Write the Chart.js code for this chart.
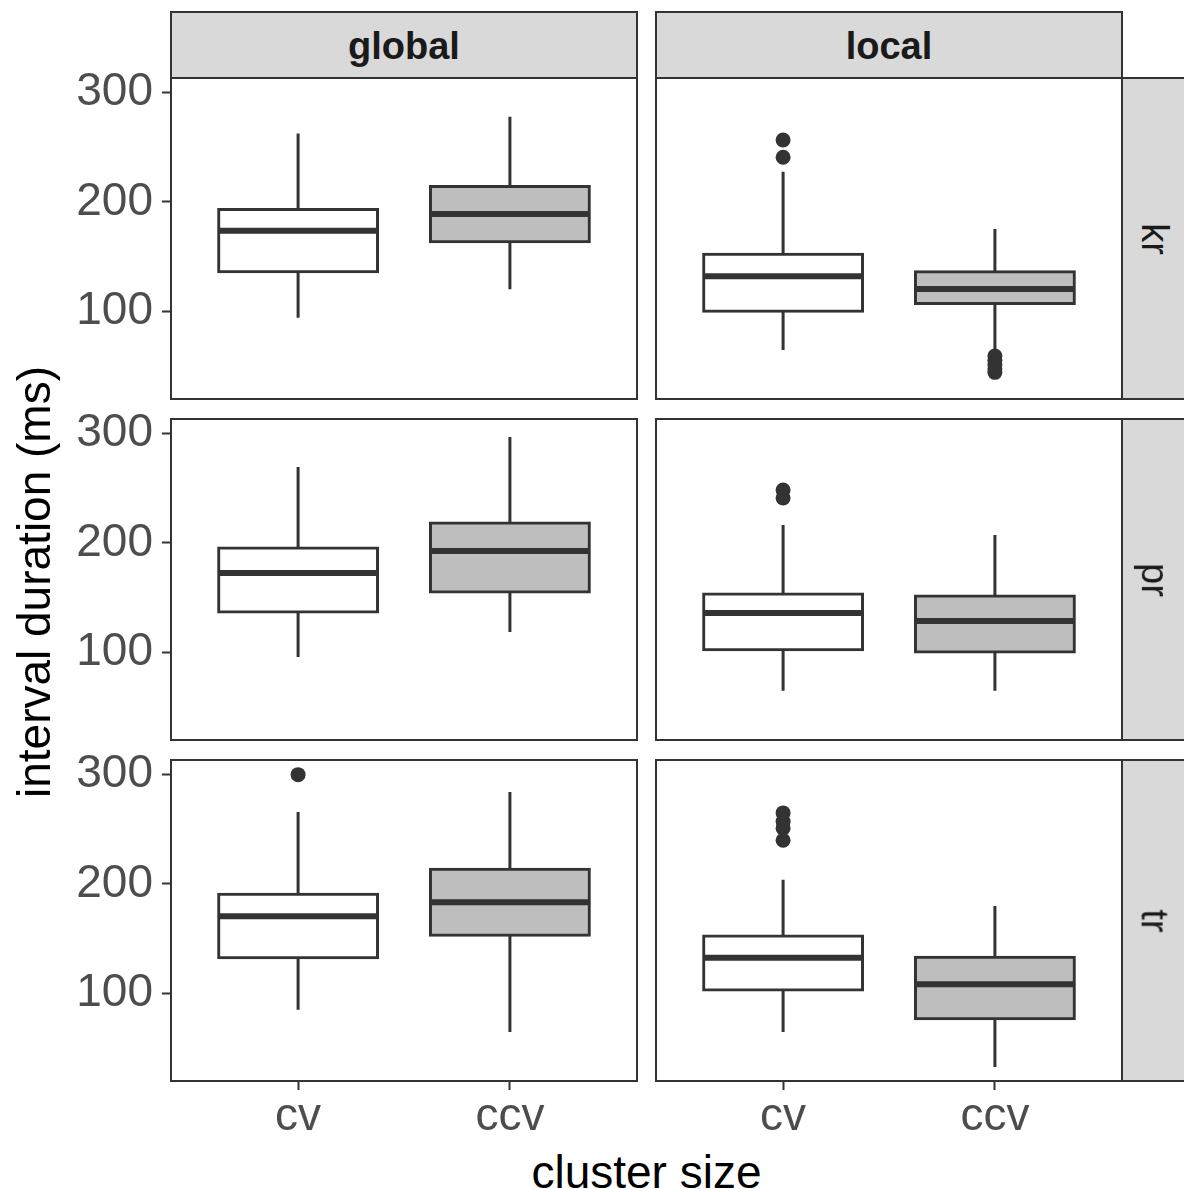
<!DOCTYPE html>
<html><head><meta charset="utf-8">
<script src="https://cdn.jsdelivr.net/npm/chart.js@4.4.1/dist/chart.umd.min.js"></script>
<style>
html,body{margin:0;padding:0;background:#fff;}
body{width:1184px;height:1189px;position:relative;overflow:hidden;font-family:'Liberation Sans',Arial,Helvetica,sans-serif;}
canvas{position:absolute;}
.strip{position:absolute;box-sizing:border-box;background:#d9d9d9;border:2px solid #333;color:#1a1a1a;font-size:38px;display:flex;align-items:center;justify-content:center;}
.strip.top{font-weight:bold;padding-top:3px;}
.strip.side span{display:inline-block;line-height:38px;transform:rotate(90deg);white-space:nowrap;}
.title{position:absolute;font-size:46px;line-height:52px;height:52px;width:600px;text-align:center;color:#000;white-space:nowrap;}
</style>
</head><body>
<script>
// ---- data ----
const facetCols = ['global', 'local'];
const facetRows = ['kr', 'pr', 'tr'];
const categories = ['cv', 'ccv'];
const yTicks = [100, 200, 300];
const yRange = [19.6, 313.4];
// indexed [row][col] -> [cv, ccv]
const whiskerLow  = [[[94, 120], [64.5, 60]], [[95.6, 118.5], [64.6, 64.6]], [[84.7, 64.5], [64.5, 32.5]]];
const q1          = [[[136, 163.5], [100, 107]], [[136.8, 155.1], [102.1, 100.2]], [[132.3, 153], [103, 76.5]]];
const median      = [[[173.5, 189], [132, 120.3]], [[172.5, 192.6], [135.9, 128.6]], [[170.4, 183.2], [132.5, 108.2]]];
const q3          = [[[193, 214], [152, 136]], [[195.4, 218.2], [153.3, 151.5]], [[190.5, 213.4], [152.3, 132.9]]];
const whiskerHigh = [[[262.5, 278], [227.5, 175.3]], [[269.5, 296.9], [216.4, 207.3]], [[265.8, 284.1], [203.8, 179.7]]];
const outliers    = [
  [[[], []], [[256.7, 240.8], [59, 55, 51, 47, 44]]],
  [[[], []], [[248.4, 241.1], []]],
  [[[300], []], [[265, 257, 251, 240], []]]
];
const boxFills = ['#ffffff', '#bebebe'];

// ---- layout (pixels) ----
const panelLeft = [171, 656];
const panelTop = [78, 419, 760];
const panelW = 466, panelH = 321;
const padT = 40, padB = 40, padR = 10, xAxisH = 60, yAxisW = 171;
const fontFam = "'Liberation Sans', Arial, Helvetica, sans-serif";

const boxPlugin = {
  id: 'boxExtras',
  beforeDatasetsDraw(chart, args, opts) {
    const {ctx, scales: {x, y}} = chart;
    ctx.save();
    ctx.beginPath();
    ctx.rect(chart.chartArea.left, chart.chartArea.top, chart.chartArea.width, chart.chartArea.height);
    ctx.clip();
    ctx.strokeStyle = '#333333';
    ctx.lineWidth = 3;
    ctx.beginPath();
    opts.stats.forEach(s => {
      const px = x.getPixelForValue(s.x);
      ctx.moveTo(px, y.getPixelForValue(s.high));
      ctx.lineTo(px, y.getPixelForValue(s.q3));
      ctx.moveTo(px, y.getPixelForValue(s.q1));
      ctx.lineTo(px, y.getPixelForValue(s.low));
    });
    ctx.stroke();
    ctx.restore();
  },
  afterDatasetsDraw(chart, args, opts) {
    const {ctx, scales: {y}} = chart;
    const meta = chart.getDatasetMeta(0);
    ctx.save();
    ctx.strokeStyle = '#333333';
    ctx.lineWidth = 6;
    ctx.beginPath();
    opts.stats.forEach((s, i) => {
      const el = meta.data[i];
      const p = el.getProps(['x', 'width'], true);
      const py = y.getPixelForValue(s.med);
      ctx.moveTo(p.x - p.width / 2, py);
      ctx.lineTo(p.x + p.width / 2, py);
    });
    ctx.stroke();
    ctx.restore();
  },
  afterDraw(chart) {
    const {ctx, chartArea: a} = chart;
    ctx.save();
    ctx.strokeStyle = '#333333';
    ctx.lineWidth = 2;
    ctx.strokeRect(a.left, a.top, a.right - a.left, a.bottom - a.top);
    ctx.restore();
  }
};

function addDiv(cls, text, style) {
  const d = document.createElement('div');
  d.className = cls;
  if (cls.indexOf('side') >= 0) {
    const s = document.createElement('span');
    s.textContent = text;
    d.appendChild(s);
  } else {
    d.textContent = text;
  }
  Object.assign(d.style, style);
  document.body.appendChild(d);
}

facetRows.forEach((rowName, r) => {
  facetCols.forEach((colName, c) => {
    const showY = c === 0, showX = r === facetRows.length - 1;
    const cv = document.createElement('canvas');
    const w = (showY ? yAxisW : 20) + panelW + padR;
    const h = padT + panelH + (showX ? xAxisH : padB);
    cv.width = w; cv.height = h;
    cv.style.width = w + 'px'; cv.style.height = h + 'px';
    cv.style.left = (showY ? 0 : panelLeft[c]) + 'px';
    cv.style.top = (panelTop[r] - padT) + 'px';
    document.body.appendChild(cv);

    const stats = categories.map((k, i) => ({
      x: i + 1,
      low: whiskerLow[r][c][i], q1: q1[r][c][i], med: median[r][c][i],
      q3: q3[r][c][i], high: whiskerHigh[r][c][i]
    }));
    const pts = [];
    categories.forEach((k, i) => outliers[r][c][i].forEach(v => pts.push({x: i + 1, y: v})));

    const chart = new Chart(cv.getContext('2d'), {
      type: 'bar',
      data: {
        datasets: [
          {
            type: 'bar',
            data: stats.map(s => ({x: s.x, y: [s.q1, s.q3]})),
            backgroundColor: boxFills,
            borderColor: '#333333',
            borderWidth: 3,
            borderSkipped: false,
            grouped: false,
            barPercentage: 0.75,
            categoryPercentage: 1,
            inflateAmount: 1.5,
            order: 2
          },
          {
            type: 'scatter',
            data: pts,
            pointRadius: 7.5,
            pointHoverRadius: 7.5,
            backgroundColor: '#333333',
            borderWidth: 0,
            order: 1
          }
        ]
      },
      options: {
        responsive: false,
        animation: false,
        devicePixelRatio: 1,
        events: [],
        layout: {padding: {top: padT, bottom: showX ? 0 : padB, left: showY ? 0 : 20, right: padR}},
        plugins: {legend: {display: false}, tooltip: {enabled: false}, boxExtras: {stats}},
        scales: {
          x: {
            type: 'linear', min: 0.4, max: 2.6, offset: false,
            display: showX,
            border: {display: false},
            grid: {display: true, offset: false, drawOnChartArea: false, drawTicks: true, tickLength: 9, tickColor: '#333333', tickWidth: 2},
            ticks: {
              autoSkip: false, maxRotation: 0, minRotation: 0, padding: 0,
              color: '#4d4d4d', font: {family: fontFam, size: 46},
              callback: (v, i) => categories[i]
            },
            afterBuildTicks: s => { s.ticks = categories.map((k, i) => ({value: i + 1})); },
            afterFit: s => { if (showX) { s.height = xAxisH; } else { s.height = 0; } s.paddingLeft = 0; s.paddingRight = 0; }
          },
          y: {
            type: 'linear', min: yRange[0], max: yRange[1], beginAtZero: false,
            display: showY,
            border: {display: false},
            grid: {display: true, drawOnChartArea: false, drawTicks: true, tickLength: 9, tickColor: '#333333', tickWidth: 2},
            ticks: {
              padding: 9, color: '#4d4d4d', font: {family: fontFam, size: 46},
              callback: v => String(v)
            },
            afterBuildTicks: s => { s.ticks = yTicks.map(v => ({value: v})); },
            afterFit: s => { if (showY) { s.width = yAxisW; } else { s.width = 0; } s.paddingTop = 0; s.paddingBottom = 0; }
          }
        }
      },
      plugins: [boxPlugin]
    });

    // make the plotting area exactly panel-sized
    for (let k = 0; k < 3; k++) {
      const a = chart.chartArea;
      const dw = (a.right - a.left) - panelW, dh = (a.bottom - a.top) - panelH;
      if (Math.abs(dw) + Math.abs(dh) < 0.5) break;
      const p = chart.options.layout.padding;
      chart.options.layout.padding = {left: p.left, right: p.right + dw, top: p.top, bottom: p.bottom + dh};
      chart.update();
    }
    // and place the canvas so the plotting area lands on the panel rectangle
    const a = chart.chartArea;
    cv.style.left = (panelLeft[c] - a.left) + 'px';
    cv.style.top = (panelTop[r] - a.top) + 'px';
  });
});

// facet strips
facetCols.forEach((name, c) => {
  addDiv('strip top', name, {left: (panelLeft[c] - 1) + 'px', top: '11px', width: (panelW + 2) + 'px', height: (panelTop[0] - 11 + 1) + 'px'});
});
facetRows.forEach((name, r) => {
  addDiv('strip side', name, {left: (panelLeft[1] + panelW - 1) + 'px', top: (panelTop[r] - 1) + 'px', width: '67px', height: (panelH + 2) + 'px'});
});

// axis titles
addDiv('title', 'interval duration (ms)', {left: (34 - 300) + 'px', top: (582 - 26) + 'px', transform: 'rotate(-90deg)'});
addDiv('title', 'cluster size', {left: ((panelLeft[0] + panelLeft[1] + panelW) / 2 - 300) + 'px', top: '1146px'});
</script>
</body></html>
